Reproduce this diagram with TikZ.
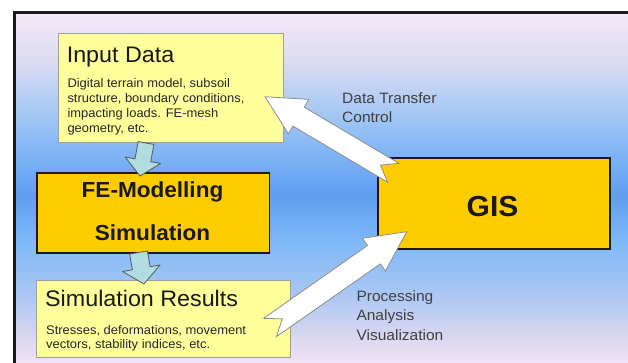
\documentclass[tikz,border=0pt]{standalone}
\usepackage{fontspec}
\setmainfont{Liberation Sans}[FakeStretch=1.035]
\usetikzlibrary{calc}
\definecolor{bgA}{HTML}{F2E2F5}
\definecolor{bgB}{HTML}{D2D5F0}
\definecolor{bgC}{HTML}{A6C6F3}
\definecolor{bgD}{HTML}{7EB8F8}
\definecolor{bgE}{HTML}{5F9EF0}
\definecolor{bgF}{HTML}{82B6F6}
\definecolor{bgG}{HTML}{A8C9F4}
\definecolor{bgH}{HTML}{DCDDF2}
\definecolor{bgI}{HTML}{F6E8F7}
\definecolor{lightyel}{HTML}{FFFF9C}
\definecolor{orangebox}{HTML}{FFCC00}
\definecolor{bluearrow}{HTML}{B0DCE2}
\pgfdeclareverticalshading{bgshade}{100bp}{color(0bp)=(bgA); color(25bp)=(bgA); color(29.56bp)=(bgB); color(35.26bp)=(bgC); color(42.38bp)=(bgD); color(48.79bp)=(bgE); color(55.2bp)=(bgF); color(60.9bp)=(bgG); color(68.02bp)=(bgH); color(75bp)=(bgI); color(100bp)=(bgI)}
\newcommand\blockarrow[7]{%
  \coordinate (ba-j) at ($(#3)!#6!(#2)$);
  \coordinate (ba-n) at ($(#2)!#7!(#3)$);
  \draw[#1] ($(#2)!#4!90:(#3)$) -- ($(ba-j)!#4!90:(#3)$) -- ($(ba-j)!#5!90:(#3)$) -- (#3)
    -- ($(ba-j)!#5!-90:(#3)$) -- ($(ba-j)!#4!-90:(#3)$) -- ($(#2)!#4!-90:(#3)$) -- (ba-n) -- cycle;}
\tikzset{
  ybox/.style={draw=black!38, line width=1pt, fill=lightyel, inner sep=0pt, anchor=north west},
  obox/.style={draw=black!90, line width=1.8pt, fill=orangebox, inner sep=0pt, anchor=north west},
  titletext/.style={inner sep=0pt, anchor=base west, font=\fontsize{22.5}{26}\selectfont, text=black!90},
  bodytext/.style={inner sep=0pt, anchor=base west, font=\fontsize{12.5}{15}\selectfont, text=black!85},
  boldtext/.style={inner sep=0pt, anchor=base, font=\fontsize{21.8}{26}\selectfont\bfseries, text=black!90},
  labeltext/.style={inner sep=0pt, anchor=base west, font=\fontsize{15}{18}\selectfont, text=black!75},
  whitearrow/.style={fill=white, draw=black!45, line width=0.8pt, line join=miter},
  bluearr/.style={fill=bluearrow, draw=black!65, line width=0.8pt, line join=round}
}
\begin{document}
\begin{tikzpicture}[x=1pt, y=-1pt]
\useasboundingbox (0,0) rectangle (628,362);
\begin{scope}
  \clip (0,0) rectangle (628,362);
  \shade[shading=bgshade] (13,11) rectangle (640,362);
  \draw[line width=2.6pt, black!90] (14.3,12.3) rectangle (700,420);
\end{scope}
% boxes
\node[ybox, minimum width=225pt, minimum height=108.4pt] (inbox) at (58.3,33.3) {};
\node[obox, minimum width=232.5pt, minimum height=79.5pt] (febox) at (36,172.2) {};
\node[ybox, minimum width=254pt, minimum height=76.7pt] (simbox) at (36,280) {};
\node[obox, minimum width=232.6pt, minimum height=91.6pt] (gisbox) at (376.7,156.7) {};
% texts
\node[titletext] (intitle) at (66.6,62.7) {Input Data};
\node[bodytext] (in1) at (67.3,87.3) {Digital terrain model, subsoil};
\node[bodytext] (in2) at (67.3,102.4) {structure, boundary conditions,};
\node[bodytext] (in3) at (67.3,117.5) {impacting loads. FE-mesh};
\node[bodytext] (in4) at (67.3,132.6) {geometry, etc.};
\node[boldtext] (fe1) at (152.5,197.7) {FE-Modelling};
\node[boldtext] (fe2) at (152.5,240) {Simulation};
\node[titletext] (simtitle) at (45,306.7) {Simulation Results};
\node[bodytext] (sim1) at (46,334) {Stresses, deformations, movement};
\node[bodytext] (sim2) at (46,348.5) {vectors, stability indices, etc.};
\node[inner sep=0pt, anchor=base, font=\fontsize{29}{34}\selectfont\bfseries, text=black!90] (gistext) at (492.5,216.7) {GIS};
\node[labeltext] (dt1) at (342,103.3) {Data Transfer};
\node[labeltext] (dt2) at (342,122) {Control};
\node[labeltext] (pr1) at (356.3,301) {Processing};
\node[labeltext] (pr2) at (356.3,320.5) {Analysis};
\node[labeltext] (pr3) at (356.3,340) {Visualization};
% arrow end points
\coordinate (b1tail) at (146,143);
\coordinate (b1tip) at (140,176);
\coordinate (b2tail) at (138.5,252.5);
\coordinate (b2tip) at (144,284);
\coordinate (w1tail) at (393.3,172.8);
\coordinate (w1tip) at (265,96.7);
\coordinate (w2tail) at (270,327.5);
\coordinate (w2tip) at (406.7,231.7);
% arrows
\blockarrow{bluearr}{b1tail}{b1tip}{8pt}{18pt}{16pt}{0pt}
\blockarrow{bluearr}{b2tail}{b2tip}{9pt}{19pt}{16pt}{0pt}
\blockarrow{whitearrow}{w1tail}{w1tip}{11pt}{20pt}{39pt}{15pt}
\blockarrow{whitearrow}{w2tail}{w2tip}{11.2pt}{20pt}{40pt}{15pt}
\end{tikzpicture}
\end{document}
